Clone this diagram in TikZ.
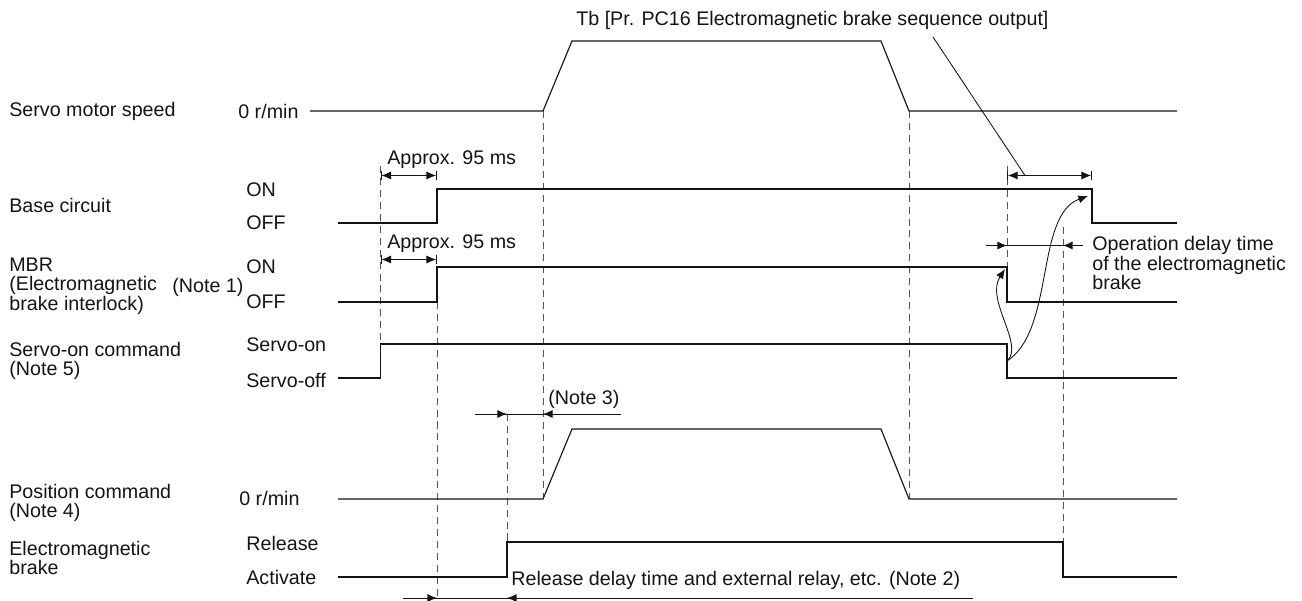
\documentclass[tikz,border=0pt]{standalone}
\usepackage{fontspec}
\setmainfont{Liberation Sans}
\usetikzlibrary{arrows.meta}
\usepackage{xcolor}
\definecolor{inkblack}{RGB}{20,20,20}
\definecolor{dashgrey}{RGB}{85,85,85}

\tikzset{
  sig/.style={inkblack,line width=0.65pt},
  guide/.style={dashgrey,line width=0.45pt,dash pattern=on 4pt off 2.8pt},
  dim/.style={inkblack,line width=0.5pt,>={Latex[length=5.5pt,width=4.6pt]}},
  lbl/.style={anchor=west,inner sep=0pt,text=inkblack,
    font=\fontsize{11.2}{11.2}\selectfont},
  lblm/.style={lbl,align=left},
}

\begin{document}
\begin{tikzpicture}[x=0.02cm,y=-0.02cm]

  \useasboundingbox (0,0) rectangle (1302,601);

  % ── ROW LABELS ─────────────────────────────────────────────────────────────
  \node[lbl] (speedlbl) at (9,111) {Servo motor speed};
  \node[lbl] (baselbl) at (9,205) {Base circuit};
  \node[lblm] (mbrlbl) at (9,286) {MBR\\(Electromagnetic\\brake interlock)};
  \node[lbl] (note1) at (172,287) {(Note 1)};
  \node[lblm] (sonlbl) at (9,361) {Servo-on command\\(Note 5)};
  \node[lblm] (poslbl) at (9,503) {Position command\\(Note 4)};
  \node[lblm] (brakelbl) at (9,558) {Electromagnetic\\brake};

  % ── LEVEL LABELS ───────────────────────────────────────────────────────────
  \node[lbl] (speedzero) at (238,111) {0 r/min};
  \node[lbl] (baseon) at (246,190) {ON};
  \node[lbl] (baseoff) at (246,223) {OFF};
  \node[lbl] (mbron) at (246,267) {ON};
  \node[lbl] (mbroff) at (246,302) {OFF};
  \node[lbl] (sonon) at (246,345) {Servo-on};
  \node[lbl] (sonoff) at (246,380) {Servo-off};
  \node[lbl] (poszero) at (239,498) {0 r/min};
  \node[lbl] (brakerel) at (246,543) {Release};
  \node[lbl] (brakeact) at (246,577) {Activate};

  % ── GUIDE LINES ────────────────────────────────────────────────────────────
  \draw[guide] (380.5,166) -- (380.5,344);
  \draw[guide] (437,302) -- (437,598);
  \draw[guide] (507,414) -- (507,542);
  \draw[guide] (543,111) -- (543,499);
  \draw[guide] (909,111) -- (909,499);
  \draw[guide] (1007,166) -- (1007,267);
  \draw[guide] (1063,227) -- (1063,542);

  % ── SIGNALS ────────────────────────────────────────────────────────────────
  % servo motor speed
  \draw[sig] (310,111) -- (543,111) -- (572,41) -- (881,41) -- (909,111) -- (1177,111);
  % base circuit
  \draw[sig] (338,223) -- (437,223) -- (437,189) -- (1092,189) -- (1092,223) -- (1177,223);
  % MBR
  \draw[sig] (338,302) -- (437,302) -- (437,267) -- (1007,267) -- (1007,302) -- (1177,302);
  % servo-on command
  \draw[sig] (338,378) -- (380.5,378) -- (380.5,344) -- (1007,344) -- (1007,378) -- (1177,378);
  % position command
  \draw[sig] (338,499) -- (543,499) -- (572,429) -- (881,429) -- (909,499) -- (1177,499);
  % electromagnetic brake
  \draw[sig] (338,577) -- (507,577) -- (507,542) -- (1063,542) -- (1063,577) -- (1177,577);

  % ── TIMING MARKS ───────────────────────────────────────────────────────────
  \draw[dim,|<->|] (380.5,175.5) -- (437,175.5);
  \node[lbl] (approxa) at (387,160) {Approx. 95 ms};
  \draw[dim,|<->|] (380.5,259.5) -- (437,259.5);
  \node[lbl] (approxb) at (387,244) {Approx. 95 ms};

  % Tb
  \node[lbl] (tblbl) at (576,20) {Tb [Pr. PC16 Electromagnetic brake sequence output]};
  \draw[dim,|<->|] (1007,175.5) -- (1092,175.5);
  \draw[inkblack,line width=0.5pt] (933,37) -- (1025,175.5);

  % operation delay
  \draw[dim] (986,245.5) -- (1083,245.5);
  \draw[dim,->] (990,245.5) -- (1007,245.5);
  \draw[dim,->] (1080,245.5) -- (1063,245.5);
  \node[lblm,anchor=north west] (opdelay) at (1092,236)
    {Operation delay time\\of the electromagnetic\\brake};

  % curved cause arrows
  \draw[dim,->] (1007,361) .. controls (1025,345) and (985,300) .. (1005,269);
  \draw[dim,->] (1007,361) .. controls (1055,330) and (1035,215) .. (1088,196);

  % note 3
  \draw[dim] (475,414) -- (621,414);
  \draw[dim,->] (480,414) -- (507,414);
  \draw[dim,->] (615,414) -- (543,414);
  \node[lbl] (note3) at (548,399) {(Note 3)};

  % note 2
  \draw[dim] (403,598) -- (973,598);
  \draw[dim,->] (410,598) -- (437,598);
  \draw[dim,->] (530,598) -- (507,598);
  \node[lbl] (note2) at (511,580) {Release delay time and external relay, etc. (Note 2)};

\end{tikzpicture}
\end{document}
